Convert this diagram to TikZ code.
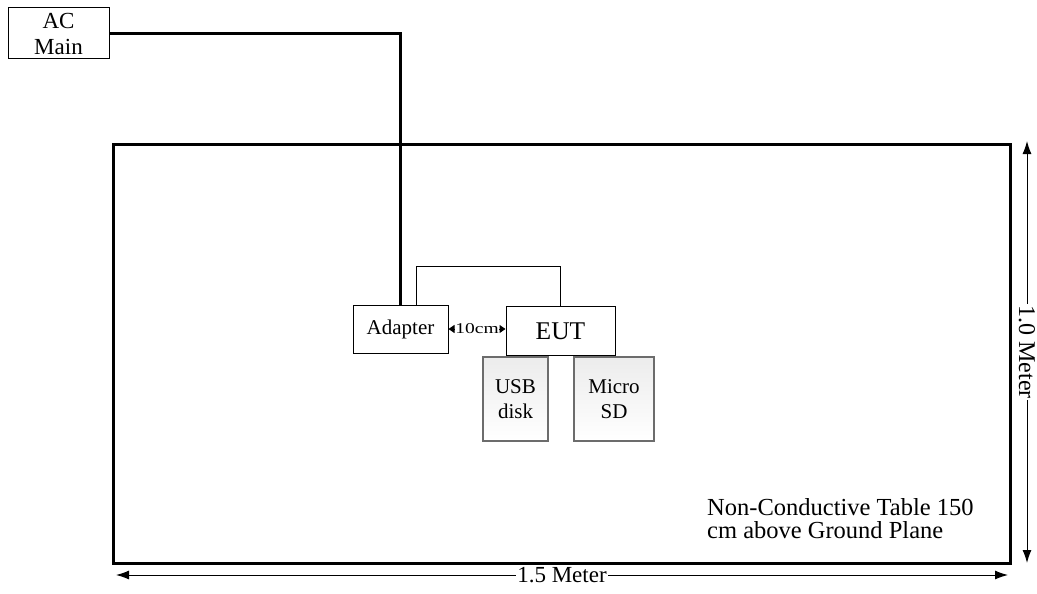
\documentclass[tikz,border=0pt]{standalone}
\usepackage{fontspec}
\setmainfont{Liberation Serif}
\usetikzlibrary{arrows.meta}
\tikzset{
  unit/.style={draw,line width=1pt,inner sep=0pt,align=center},
  media/.style={draw=gray!85!black,line width=2pt,inner sep=0pt,align=center,
    top color=gray!15,bottom color=white,font=\fontsize{21}{25}\selectfont},
  dimarrow/.style={line width=1pt,{Latex[length=13pt,width=9pt]}-{Latex[length=13pt,width=9pt]}},
}
\begin{document}
\begin{tikzpicture}[x=1pt,y=-1pt]
  \useasboundingbox (0,0) rectangle (1037,594);
  % table
  \draw[line width=3pt] (113,144) rectangle (1010,563);
  \node[anchor=base west,inner sep=0pt,align=left,font=\fontsize{24.5}{23}\selectfont] (tabletext) at (707,538)
    {Non-Conductive Table 150\\cm above Ground Plane};
  % units
  \node[unit,minimum width=101pt,minimum height=51pt,font=\fontsize{23}{26}\selectfont] (acmain) at (58.5,33.5) {AC\\Main};
  \node[unit,minimum width=95pt,minimum height=48pt,font=\fontsize{21}{22}\selectfont] (adapter) at (400.5,329) {Adapter};
  \node[unit,minimum width=109pt,minimum height=49pt,font=\fontsize{25.5}{26}\selectfont] (eut) at (560.5,331) {EUT};
  \node[media,minimum width=65pt,minimum height=84pt] (usb) at (515.5,399) {USB\\disk};
  \node[media,minimum width=80pt,minimum height=84pt] (microsd) at (614,399) {Micro\\SD};
  % cables
  \draw[line width=3pt] (acmain.east) -| (adapter.north);
  \draw[line width=0.8pt] ([xshift=16pt]adapter.north) -- ++(0,-38) -| (eut.north);
  \draw[line width=1pt,{Triangle[length=6pt,width=8pt]}-{Triangle[length=6pt,width=8pt]}] (adapter.east) --
    node[fill=white,inner sep=0pt,font=\fontsize{15}{15}\selectfont] (gap) {\scalebox{1.3}[1]{10cm}} (adapter.east -| eut.west);
  % dimensions
  \coordinate (hleft) at (116,575);
  \coordinate (hright) at (1008,575);
  \coordinate (vtop) at (1027,141);
  \coordinate (vbottom) at (1027,563);
  \draw[dimarrow] (hleft) -- node[fill=white,inner sep=1pt,font=\fontsize{23}{23}\selectfont] (width) {1.5 Meter} (hright);
  \draw[dimarrow] (vtop) -- node[fill=white,inner sep=1pt,rotate=-90,font=\fontsize{24}{24}\selectfont] (depth) {1.0 Meter} (vbottom);
\end{tikzpicture}
\end{document}
